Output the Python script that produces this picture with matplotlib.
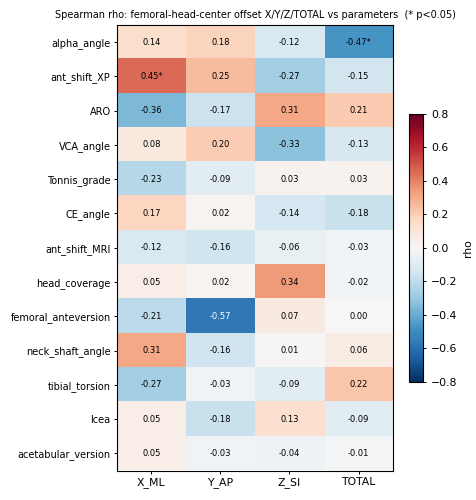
import matplotlib
matplotlib.use("Agg")
import matplotlib.pyplot as plt
import numpy as np

params = ["alpha_angle", "ant_shift_XP", "ARO", "VCA_angle", "Tonnis_grade", "CE_angle",
          "ant_shift_MRI", "head_coverage", "femoral_anteversion", "neck_shaft_angle",
          "tibial_torsion", "lcea", "acetabular_version"]
cols = ["X_ML", "Y_AP", "Z_SI", "TOTAL"]
x_ml = [0.14, 0.45, -0.36, 0.08, -0.23, 0.17, -0.12, 0.05, -0.21, 0.31, -0.27, 0.05, 0.05]
y_ap = [0.18, 0.25, -0.17, 0.20, -0.09, 0.02, -0.16, 0.02, -0.57, -0.16, -0.03, -0.18, -0.03]
z_si = [-0.12, -0.27, 0.31, -0.33, 0.03, -0.14, -0.06, 0.34, 0.07, 0.01, -0.09, 0.13, -0.04]
total = [-0.47, -0.15, 0.21, -0.13, 0.03, -0.18, -0.03, -0.02, 0.00, 0.06, 0.22, -0.09, -0.01]
sig = [(0, 3), (1, 0)]

data = np.array([x_ml, y_ap, z_si, total]).T

fig = plt.figure(figsize=(4.77, 5.0), dpi=100)
ax = fig.add_axes([0.245, 0.059, 0.579, 0.891])
im = ax.imshow(data, cmap="RdBu_r", vmin=-0.8, vmax=0.8, aspect="auto", interpolation="nearest")
ax.set_xticks(range(len(cols)))
ax.set_xticklabels(cols, fontsize=7.8)
ax.set_yticks(range(len(params)))
ax.set_yticklabels(params, fontsize=7)
ax.tick_params(length=2.5, width=0.7, pad=2)
for sp in ax.spines.values():
    sp.set_linewidth(0.8)
for i in range(data.shape[0]):
    for j in range(data.shape[1]):
        v = data[i, j]
        s = f"{v:.2f}" + ("*" if (i, j) in sig else "")
        ax.text(j, i, s, ha="center", va="center", fontsize=6,
                color="white" if abs(v) > 0.5 else "black")
ax.set_title("Spearman rho: femoral-head-center offset X/Y/Z/TOTAL vs parameters  (* p<0.05)",
             fontsize=7.0, pad=5)
cax = fig.add_axes([0.858, 0.237, 0.028, 0.535])
cb = fig.colorbar(im, cax=cax)
cb.set_label("rho", fontsize=7.8)
cb.ax.tick_params(labelsize=7.8, length=2.5, width=0.7)
cb.outline.set_linewidth(0.8)
fig.savefig("out.png", dpi=100)
